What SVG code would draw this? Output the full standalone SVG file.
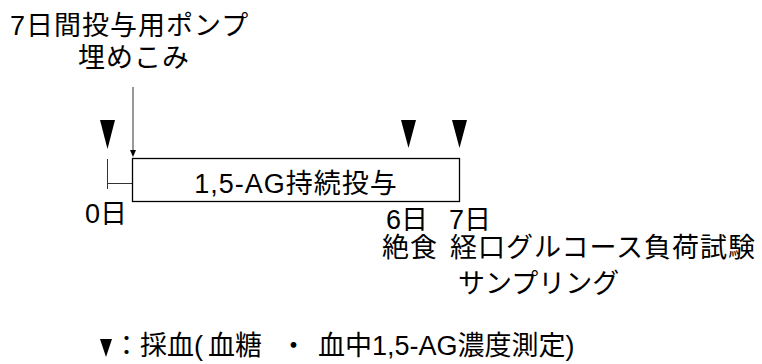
<svg xmlns="http://www.w3.org/2000/svg" width="762" height="364" viewBox="0 0 762 364">
<style>
text{font-family:"Liberation Sans","Noto Sans CJK JP",sans-serif;font-size:27px;fill:#000}
.ls{letter-spacing:1px}
.tri{fill:#000}
.ln{stroke:#333;stroke-width:1;fill:none}
</style>
<rect width="762" height="364" fill="#fff"/>
<g id="title">
<text class="ls" x="10" y="35">7日間投与用ポンプ</text>
<text class="ls" x="78" y="67">埋めこみ</text>
</g>
<g id="box">
<rect x="132.5" y="158.5" width="327" height="43" fill="#fff" stroke="#000" stroke-width="1.3"/>
<text class="ls" x="296" y="193" text-anchor="middle">1,5-AG持続投与</text>
</g>
<g id="markers">
<polygon class="tri" points="100,120 115,120 107.5,149"/>
<polygon class="tri" points="401,120 416,120 408.5,148"/>
<polygon class="tri" points="452,120 467,120 459.5,148"/>
</g>
<g id="labels">
<text x="85" y="223">0日</text>
<text x="386" y="229">6日</text>
<text x="449" y="229">7日</text>
<text class="ls" x="382" y="257">絶食</text>
<text class="ls" x="450" y="257">経口グルコース負荷試験</text>
<text x="458" y="293">サンプリング</text>
</g>
<g id="legend">
<polygon class="tri" points="100,339 112,339 106,357"/>
<text y="355"><tspan x="113">：採血(</tspan><tspan x="208">血糖</tspan><tspan x="280">・</tspan><tspan x="318">血中1,5-AG濃度測定)</tspan></text>
</g>
<g id="connectors">
<line class="ln" x1="133" y1="87" x2="133" y2="151"/>
<polygon fill="#000" points="130,150 136,150 133,157"/>
<line class="ln" x1="107.5" y1="159" x2="107.5" y2="189"/>
<line class="ln" x1="107.5" y1="183.5" x2="132" y2="183.5"/>
</g>
</svg>
